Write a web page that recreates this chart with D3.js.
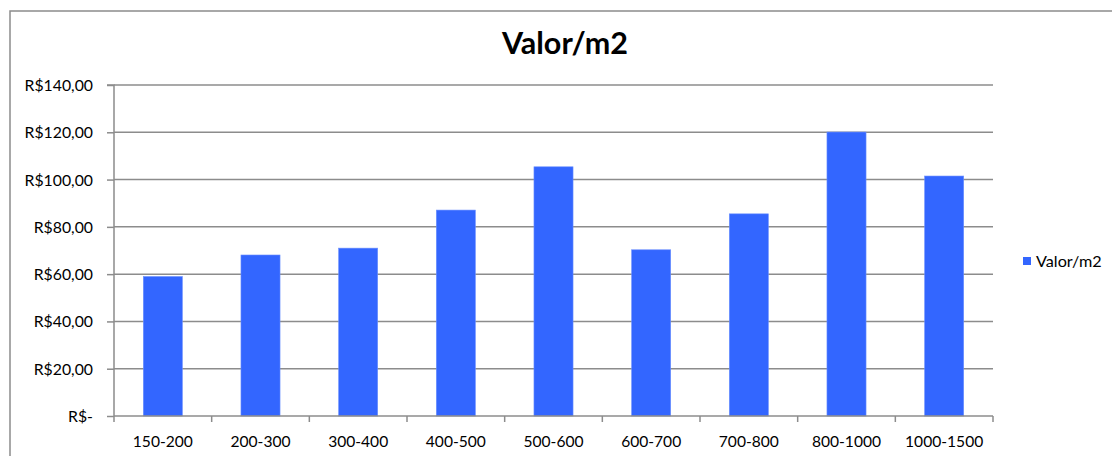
<!DOCTYPE html>
<html><head><meta charset="utf-8">
<script src="https://cdn.jsdelivr.net/npm/d3@7"></script>
<style>body{margin:0;background:#fff;}svg{display:block;font-family:Lato, "Open Sans", sans-serif;}</style>
</head><body>
<svg id="c" width="1112" height="456"></svg>
<script>
const categories = ["150-200","200-300","300-400","400-500","500-600","600-700","700-800","800-1000","1000-1500"];
const values = [59.0, 68.1, 71.0, 87.1, 105.4, 70.3, 85.5, 120.1, 101.5];
const yTicks = [0,20,40,60,80,100,120,140];
const seriesName = "Valor/m2";
const title = "Valor/m2";

const svg = d3.select("#c");
const m = {left:114, right:993, top:85, bottom:416};
// outer frame
svg.append("rect").attr("x",10).attr("y",11).attr("width",1120).attr("height",460)
  .attr("fill","none").attr("stroke","#8c8c8c").attr("stroke-width",1.5);

const xb = d3.scaleBand().domain(categories).range([m.left,m.right]);
const y = d3.scaleLinear().domain([0,140]).range([m.bottom,m.top]);

const fmt = v => v===0 ? "R$-" : "R$" + d3.format(",.2f")(v).replace(/,/g,"#").replace(".",",").replace(/#/g,".");

// gridlines
svg.append("g").selectAll("line").data(yTicks.filter(d=>d>0)).join("line")
  .attr("x1",m.left).attr("x2",m.right).attr("y1",d=>y(d)).attr("y2",d=>y(d))
  .attr("stroke","#8c8c8c").attr("stroke-width",1.5);

// bars
svg.append("g").selectAll("rect").data(values).join("rect")
  .attr("x",(d,i)=>xb(categories[i]) + xb.bandwidth()*0.3)
  .attr("width",xb.bandwidth()*0.4)
  .attr("y",d=>y(d)).attr("height",d=>y(0)-y(d))
  .attr("fill","#3366ff").attr("stroke","#6b8fff").attr("stroke-width",0.6);

// y axis
const ya = d3.axisLeft(y).tickValues(yTicks).tickSize(7).tickPadding(14).tickFormat(fmt);
const gy = svg.append("g").attr("transform",`translate(${m.left},0)`).call(ya);
gy.select(".domain").attr("stroke","#8c8c8c").attr("stroke-width",1.5).attr("d",`M-7,${m.top}H0V${m.bottom}`);
gy.selectAll(".tick line").attr("stroke","#8c8c8c").attr("stroke-width",1.5);
gy.selectAll(".tick text").attr("font-size",15.8).attr("fill","#000").attr("font-family","Lato, sans-serif").attr("dy","0.35em");

// x axis
const boundaries = categories.map(c=>xb(c)).concat([m.right]);
svg.append("line").attr("x1",m.left).attr("x2",m.right).attr("y1",m.bottom).attr("y2",m.bottom)
  .attr("stroke","#8c8c8c").attr("stroke-width",1.5);
svg.append("g").selectAll("line").data(boundaries).join("line")
  .attr("x1",d=>d).attr("x2",d=>d).attr("y1",m.bottom).attr("y2",m.bottom+6)
  .attr("stroke","#8c8c8c").attr("stroke-width",1.5);
svg.append("g").selectAll("text").data(categories).join("text")
  .attr("x",d=>xb(d)+xb.bandwidth()/2).attr("y",447)
  .attr("text-anchor","middle").attr("font-size",15.6).attr("fill","#000").text(d=>d);

// title
svg.append("text").attr("x",565).attr("y",54).attr("text-anchor","middle")
  .attr("font-size",30.5).attr("font-weight","bold").attr("fill","#000").text(title);

// legend
svg.append("rect").attr("x",1023).attr("y",257).attr("width",8).attr("height",8).attr("fill","#3366ff");
svg.append("text").attr("x",1036).attr("y",267).attr("font-size",16.2).attr("fill","#000").text(seriesName);
</script>
</body></html>
